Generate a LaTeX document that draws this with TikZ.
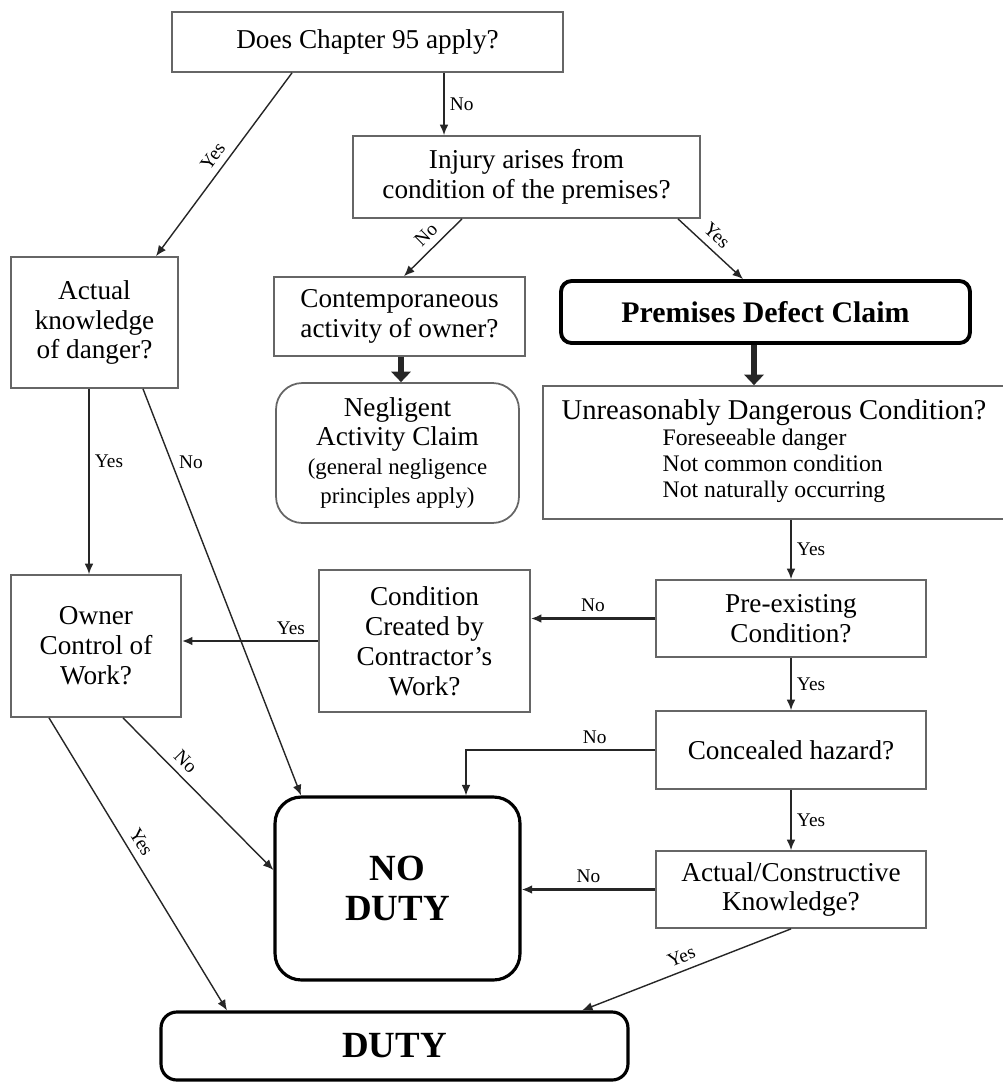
\documentclass[tikz,border=0pt]{standalone}
\usepackage{fontspec}
\setmainfont{Liberation Serif}
\usepackage{tikz}
\usetikzlibrary{arrows.meta, positioning}

\newcommand{\boxfont}{\fontsize{15.5}{17}\selectfont}
\newcommand{\smallfont}{\fontsize{13}{13.5}\selectfont}
\newcommand{\listfont}{\fontsize{13.5}{14.7}\selectfont}
\newcommand{\labelfont}{\fontsize{11}{12}\selectfont}

\tikzset{
  qbox/.style={rectangle, draw=black!60, line width=1pt, align=center, font=\boxfont, inner sep=2pt},
  claimbox/.style={rectangle, rounded corners=6pt, draw=black, line width=2.2pt, align=center, font=\fontsize{17}{19}\selectfont\bfseries},
  endbox/.style={rectangle, rounded corners=15pt, draw=black, line width=1.8pt, align=center, font=\fontsize{21}{23}\selectfont\bfseries},
  flow/.style={-{Latex[length=6pt,width=5pt]}, line width=0.8pt, draw=black!85},
  flowbold/.style={flow, line width=1.4pt},
  fatarrow/.style={-{Triangle[length=6pt,width=11pt]}, line width=3.5pt, draw=black!85},
  lbl/.style={font=\labelfont, inner sep=1pt},
  slbl/.style={lbl, sloped, above=3pt},
}

\begin{document}
\begin{tikzpicture}[x=0.02cm, y=-0.02cm]
    \useasboundingbox (0,0) rectangle (1003,1085);

    % TOP: QUESTIONS
    \node (Chapter) [qbox, minimum width=7.82cm, minimum height=1.2cm] at (367.5,42) {Does Chapter 95 apply?};
    \node (Injury) [qbox, minimum width=6.94cm, minimum height=1.64cm] at (526.5,177) {Injury arises from\\condition of the premises?};
    \node (Actual) [qbox, minimum width=3.34cm, minimum height=2.62cm] at (94.5,322.5) {Actual\\knowledge\\of danger?};
    \node (Contemp) [qbox, minimum width=5.02cm, minimum height=1.58cm] at (399.5,316.5) {Contemporaneous\\activity of owner?};
    \node (Premises) [claimbox, minimum width=8.18cm, minimum height=1.24cm] at (765.5,312) {Premises Defect Claim};

    % MIDDLE: CLAIMS
    \node (Negligent) [qbox, rounded corners=15pt, minimum width=4.86cm, minimum height=2.8cm] at (397.5,453)
        {Negligent\\Activity Claim\\[-1pt]{\smallfont (general negligence}\\{\smallfont principles apply)}};
    \node (Unreasonable) [qbox, minimum width=9.24cm, minimum height=2.66cm] at (774,452.5)
        {\fontsize{16.3}{17}\selectfont Unreasonably Dangerous Condition?\\[0pt]{\listfont\begin{tabular}{@{}l@{}}Foreseeable danger\\Not common condition\\Not naturally occurring\end{tabular}}};

    % RIGHT: PREMISES CHAIN
    \node (Preexisting) [qbox, minimum width=5.4cm, minimum height=1.54cm] at (791,618.5) {Pre-existing\\Condition?};
    \node (Concealed) [qbox, minimum width=5.4cm, minimum height=1.56cm] at (791,750) {Concealed hazard?};
    \node (Knowledge) [qbox, minimum width=5.4cm, minimum height=1.54cm] at (791,889.5) {Actual/Constructive\\Knowledge?};

    % LEFT: CONTRACTOR CHAIN
    \node (Created) [qbox, minimum width=4.22cm, minimum height=2.84cm] at (424.5,641) {Condition\\Created by\\Contractor's\\Work?};
    \node (Owner) [qbox, minimum width=3.4cm, minimum height=2.84cm] at (96,646) {Owner\\Control of\\Work?};

    % BOTTOM: OUTCOMES
    \node (NoDuty) [endbox, minimum width=4.9cm, minimum height=3.66cm] at (397.5,888.5) {NO\\DUTY};
    \node (Duty) [endbox, rounded corners=9pt, minimum width=9.34cm, minimum height=1.36cm] at (394.5,1046) {DUTY};

    % CONNECTORS
    \draw[flow] (Chapter.south -| 444,0) -- node[lbl, right=2pt] {No} (Injury.north -| 444,0);
    \draw[flow] (Chapter.south -| 292,0) -- node[slbl] {Yes} (Actual.north -| 156,0);
    \draw[flow] (Injury.south -| 462,0) -- node[slbl, pos=0.45] {No} (Contemp.north -| 404,0);
    \draw[flow] (Injury.south -| 678,0) -- node[slbl, pos=0.45] {Yes} (Premises.north -| 743,0);
    \draw[fatarrow] (Contemp.south -| 401,0) -- (Negligent.north -| 401,0);
    \draw[fatarrow] (Premises.south -| 754,0) -- (Unreasonable.north -| 754,0);

    \draw[flow] (Unreasonable.south -| Preexisting.north) -- node[lbl, right=2pt] {Yes} (Preexisting.north);
    \draw[flowbold] (Preexisting.west) -- node[lbl, above=2pt] {No} (Preexisting.west -| Created.east);
    \draw[flow] (Preexisting.south) -- node[lbl, right=2pt] {Yes} (Concealed.north);
    \draw[flow] (Concealed.west) -| node[lbl, above=2pt, pos=0.16] {No} (NoDuty.north -| 466,0);
    \draw[flow] (Concealed.south) -- node[lbl, right=2pt] {Yes} (Knowledge.north);
    \draw[flowbold] (Knowledge.west) -- node[lbl, above=2pt] {No} (Knowledge.west -| NoDuty.east);
    \draw[flow] (Knowledge.south) -- node[slbl] {Yes} (Duty.north -| 582,0);

    \draw[flow] (Actual.south -| 89,0) -- node[lbl, right=2pt, pos=0.39] {Yes} (Owner.north -| 89,0);
    \draw[flow] (Actual.south -| 143,0) -- node[lbl, right=3pt, pos=0.18] {No} (NoDuty.north -| 301,0);
    \draw[flowbold] (Created.west) -- node[lbl, above=2pt, pos=0.2] {Yes} (Created.west -| Owner.east);
    \draw[flow] (Owner.south -| 123,0) -- node[slbl, pos=0.35] {No} (NoDuty.west |- 0,870);
    \draw[flow] (Owner.south -| 49,0) -- node[slbl, pos=0.45] {Yes} (Duty.north -| 227,0);
\end{tikzpicture}
\end{document}
